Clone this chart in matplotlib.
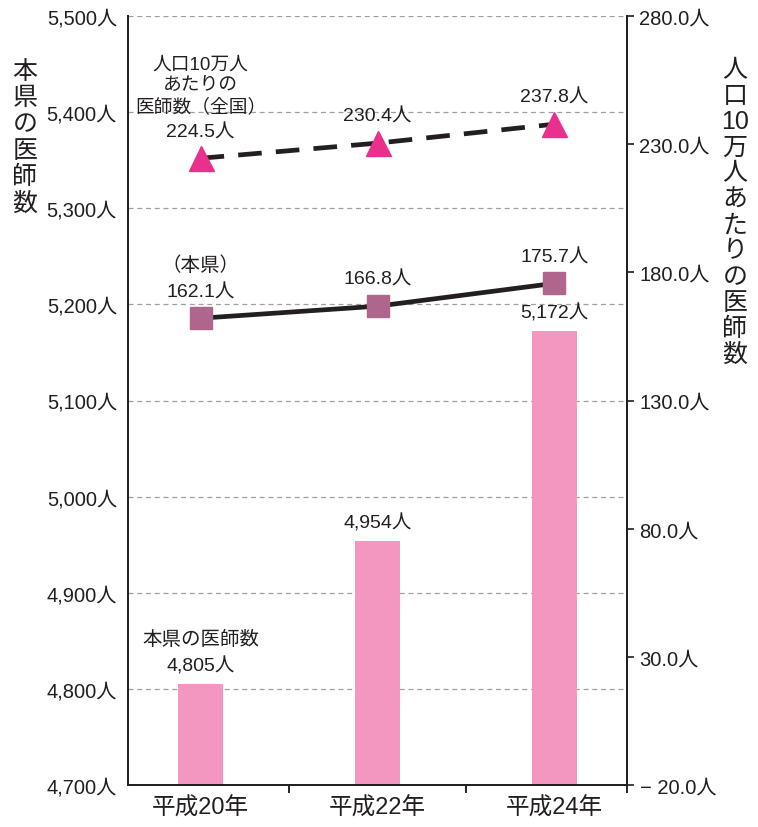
import matplotlib
matplotlib.use('Agg')
import matplotlib.pyplot as plt
from matplotlib.ticker import FuncFormatter, FixedLocator

plt.rcParams['font.family'] = ['Liberation Sans', 'Noto Sans CJK JP', 'DejaVu Sans']

YEARS = ['平成20年', '平成22年', '平成24年']
DOCTORS = [4805, 4954, 5172]
PREF_RATE = [162.1, 166.8, 175.7]
NATION_RATE = [224.5, 230.4, 237.8]

LEFT_TICKS = [4700, 4800, 4900, 5000, 5100, 5200, 5300, 5400, 5500]
RIGHT_TICKS = [-20, 30, 80, 130, 180, 230, 280]

BAR_COLOR = '#f497c0'
SQUARE_COLOR = '#b0668c'
TRI_COLOR = '#e8308c'
TEXT_COLOR = '#231f20'

fig = plt.figure(figsize=(7.58, 8.28), dpi=100)
ax = fig.add_axes([128 / 758, 1 - 786 / 828, (627 - 128) / 758, (786 - 17) / 828])
ax2 = ax.twinx()

x = list(range(len(YEARS)))
ax.bar(x, DOCTORS, width=0.25, color=BAR_COLOR, zorder=2)
ax.set_ylim(4700, 5500)
ax.set_xlim(-0.41, 2.41)
ax.set_yticks(LEFT_TICKS)
ax.yaxis.set_major_formatter(FuncFormatter(lambda v, p: '{:,.0f}人'.format(v)))
ax.tick_params(axis='y', length=0, labelsize=14.5, pad=8, colors=TEXT_COLOR)
for t in LEFT_TICKS[1:]:
    ax.axhline(t, color='#a0a0a0', lw=0.9, ls=(0, (4, 3)), zorder=1)

# x ticks sit between categories, labels at the centres
ax.xaxis.set_major_locator(FixedLocator([0.5, 1.5, 2.41]))
ax.xaxis.set_major_formatter(FuncFormatter(lambda v, p: ''))
ax.xaxis.set_minor_locator(FixedLocator(x))
ax.set_xticklabels(YEARS, minor=True)
ax.tick_params(axis='x', which='major', length=6, width=1.2, direction='out')
ax.tick_params(axis='x', which='minor', length=0, labelsize=17, pad=8, colors=TEXT_COLOR)

for a in (ax, ax2):
    a.spines['top'].set_visible(False)
    for s in ('left', 'right', 'bottom'):
        a.spines[s].set_linewidth(1.3)
        a.spines[s].set_color('#231f20')

ax2.set_ylim(-20, 280)
ax2.set_yticks(RIGHT_TICKS)
ax2.yaxis.set_major_formatter(FuncFormatter(
    lambda v, p: ('− ' if v < 0 else '') + '{:.1f}人'.format(abs(v))))
ax2.tick_params(axis='y', length=5, width=1.2, labelsize=14.5, pad=4, colors=TEXT_COLOR)

ax2.plot(x, PREF_RATE, color='#231f20', lw=3.4, marker='s', markersize=16,
         markerfacecolor=SQUARE_COLOR, markeredgecolor=SQUARE_COLOR, zorder=3)
ax2.plot(x, NATION_RATE, color='#231f20', lw=3.4, ls=(0, (5, 3)), marker='^',
         markersize=18, markerfacecolor=TRI_COLOR, markeredgecolor=TRI_COLOR, zorder=3)

fs = 14
for i, v in enumerate(DOCTORS):
    ax.annotate('{:,}人'.format(v), (i, v), xytext=(0, 7), textcoords='offset points',
                ha='center', va='bottom', fontsize=fs, color=TEXT_COLOR)
ax.annotate('本県の医師数', (0, DOCTORS[0]), xytext=(0, 26), textcoords='offset points',
            ha='center', va='bottom', fontsize=fs, color=TEXT_COLOR)

for i, v in enumerate(PREF_RATE):
    ax2.annotate('{:.1f}人'.format(v), (i, v), xytext=(0, 13), textcoords='offset points',
                 ha='center', va='bottom', fontsize=fs, color=TEXT_COLOR)
ax2.annotate('（本県）', (0, PREF_RATE[0]), xytext=(0, 32), textcoords='offset points',
             ha='center', va='bottom', fontsize=fs, color=TEXT_COLOR)

for i, v in enumerate(NATION_RATE):
    ax2.annotate('{:.1f}人'.format(v), (i, v), xytext=(0, 13), textcoords='offset points',
                 ha='center', va='bottom', fontsize=fs, color=TEXT_COLOR)
ax2.annotate('人口10万人\nあたりの\n医師数（全国）', (0, NATION_RATE[0]), xytext=(0, 31),
             textcoords='offset points', ha='center', va='bottom', fontsize=fs - 0.5,
             color=TEXT_COLOR, linespacing=1.3)

# stacked vertical axis titles
left_title = ['本', '県', 'の', '医', '師', '数']
right_title = ['人', '口', '10', '万', '人', 'あ', 'た', 'り', 'の', '医', '師', '数']
fig.text(25 / 758, 1 - 60 / 828, '\n'.join(left_title), ha='center', va='top',
         fontsize=18, linespacing=1.12, color=TEXT_COLOR)
fig.text(735 / 758, 1 - 58 / 828, '\n'.join(right_title), ha='center', va='top',
         fontsize=18, linespacing=1.1, color=TEXT_COLOR)

fig.savefig('out.png', dpi=100)
